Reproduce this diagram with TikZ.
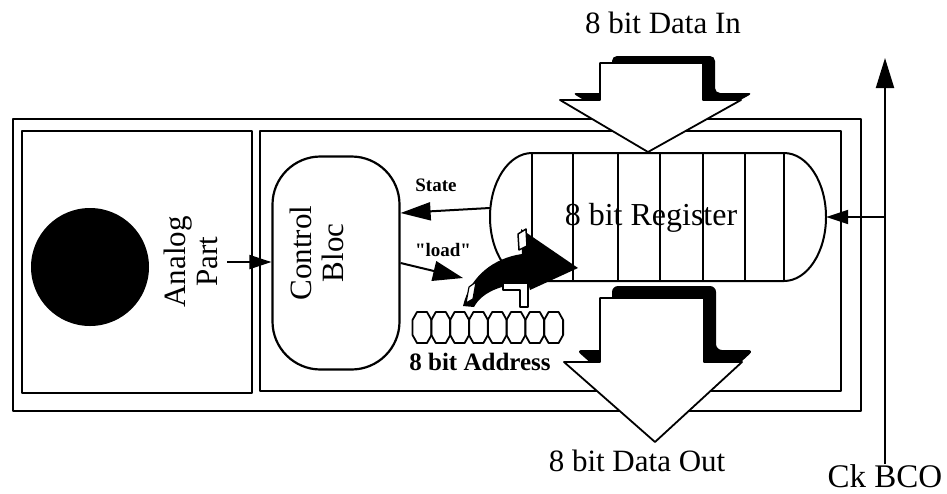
\documentclass[tikz,border=0pt]{standalone}
\usepackage{fontspec}
\setmainfont{Liberation Serif}
\usetikzlibrary{arrows.meta}

\begin{document}
\begin{tikzpicture}[x=1pt, y=-1pt, line join=round,
    box/.style={draw, line width=2.2pt},
    lbl/.style={inner sep=0pt, font=\fontsize{31}{32}\selectfont},
    tag/.style={inner sep=0pt, font=\bfseries\fontsize{19}{20}\selectfont},
    bigtip/.style={-{Triangle[length=30pt, width=18pt]}, line width=2pt}]

    \useasboundingbox (0,0) rectangle (947,493);

    % ================= frames =================
    \draw[box] (13,119) rectangle (861,411);
    \draw[box] (22,131) rectangle (252,393);
    \draw[box] (260,131) rectangle (841,391);

    % ================= analog part =================
    \node[circle, fill, minimum size=118pt, inner sep=0pt] (blob) at (90,267) {};
    \node[lbl] (analog) at (195,262) {\rotatebox{90}{\begin{tabular}{@{}c@{}}Analog\\Part\end{tabular}}};

    % ================= control bloc =================
    \node[box, rounded corners=48pt, minimum width=127pt, minimum height=213pt] (ctrl) at (336,263) {};
    \node[lbl] (ctrltxt) at (321,253) {\rotatebox{90}{\begin{tabular}{@{}c@{}}Control\\Bloc\end{tabular}}};
    \draw[-{Triangle[length=22pt, width=14pt]}, line width=2pt] (analog.east) -- (analog.east -| ctrl.west);

    % ================= data in (shadow + face) =================
    \fill[rounded corners=5pt] (612,56) -- (715,56) -- (715,93) -- (753,93) -- (660,145) -- (572,93) -- (612,93) -- cycle;
    \draw[fill=white, line width=1.8pt] (600,63) -- (703,63) -- (703,100) -- (741,100) -- (648,152) -- (560,100) -- (600,100) -- cycle;
    \node[lbl] (datain) at (663,23) {8 bit Data In};

    % ================= register =================
    \node[minimum width=336pt, minimum height=128pt, inner sep=0pt] (reg) at (658,217) {};
    \draw[fill=white, line width=2pt] (532,153) -- (784,153)
        arc[start angle=-90, end angle=90, x radius=42, y radius=64] -- (532,281)
        arc[start angle=90, end angle=270, x radius=42, y radius=64] -- cycle;
    \foreach \x in {532,573,618,660,703,745,784}
        \draw[line width=2pt] (\x,153) -- (\x,281);
    \node[lbl, font=\fontsize{32}{32}\selectfont] (regtxt) at (651,218) {8 bit Register};

    % State / load
    \draw[bigtip] ([yshift=9pt]reg.west) -- (ctrl.east |- 0,213);
    \node[tag] (state) at (436,185) {State};
    \coordinate (loadtip) at (463,278);
    \draw[-{Triangle[length=30pt, width=20pt]}, line width=2pt] (ctrl.east) -- (loadtip);
    \node[tag] (load) at (443,250) {\textquotedbl load\textquotedbl};

    % curved block arrow into the register
    \fill (463,306) .. controls (470,276) and (494,258) .. (522,254) -- (521,229) -- (578,268)
        -- (530,290) -- (528,283) .. controls (502,284) and (482,292) .. (474,307) -- cycle;
    \draw[fill=white, line width=1.5pt] (503,283) -- (528,283) -- (528,307) -- (520,307) -- (520,290) -- (503,290) -- cycle;
    \draw[fill=white, line width=1.5pt] (518,234) -- (526,229) -- (527,246) -- (519,250) -- cycle;
    \draw[fill=white, line width=1.2pt] (466,303) -- (469,287) -- (476,282) -- (473,299) -- cycle;

    % 8 bit address
    \foreach \i in {0,...,7} {
        \pgfmathsetmacro\cx{422+18.8*\i}
        \draw[line width=1.8pt] (\cx-9.5,320) -- (\cx-5,312) -- (\cx+5,312) -- (\cx+9.5,320)
            -- (\cx+9.5,335) -- (\cx+5,343) -- (\cx-5,343) -- (\cx-9.5,335) -- cycle;
    }
    \node[inner sep=0pt, font=\bfseries\fontsize{25}{25}\selectfont] (addr) at (480,362) {8 bit Address};

    % ================= data out (shadow + face) =================
    \fill[rounded corners=6pt] (612,286) -- (716,286) -- (716,350) -- (754,350) -- (667,430) -- (576,350) -- (612,350) -- cycle;
    \draw[fill=white, line width=1.8pt] (600,298) -- (704,298) -- (704,362) -- (742,362) -- (655,442) -- (564,362) -- (600,362) -- cycle;
    \node[lbl] (dataout) at (637,461) {8 bit Data Out};

    % ================= clock =================
    \node[lbl, font=\fontsize{33}{33}\selectfont] (ck) at (885,476) {Ck BCO};
    \coordinate (cktop) at (885,58);
    \draw[bigtip] (ck.north) -- (cktop);
    \draw[-{Triangle[length=22pt, width=14pt]}, line width=2pt] (ck.north |- reg.east) -- (reg.east);

\end{tikzpicture}
\end{document}
